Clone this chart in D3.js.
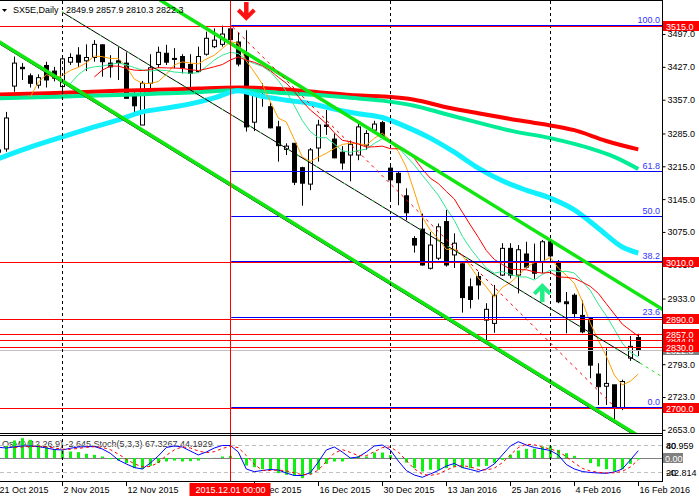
<!DOCTYPE html>
<html><head><meta charset="utf-8">
<script src="https://cdn.jsdelivr.net/npm/d3@7"></script>
<style>
html,body{margin:0;padding:0;background:#fff;overflow:hidden;}
svg text{font-family:"Liberation Sans",Arial,sans-serif;font-size:9px;}
</style></head><body>
<svg id="c" width="699" height="500"></svg>
<script>
// ---------------- DATA ----------------
const dates = ["2015-10-21","2015-10-22","2015-10-23","2015-10-26","2015-10-27","2015-10-28","2015-10-29","2015-10-30",
"2015-11-02","2015-11-03","2015-11-04","2015-11-05","2015-11-06","2015-11-09","2015-11-10","2015-11-11","2015-11-12","2015-11-13","2015-11-16","2015-11-17","2015-11-18","2015-11-19","2015-11-20","2015-11-23","2015-11-24","2015-11-25","2015-11-26","2015-11-27","2015-11-30",
"2015-12-01","2015-12-02","2015-12-03","2015-12-04","2015-12-07","2015-12-08","2015-12-09","2015-12-10","2015-12-11","2015-12-14","2015-12-15","2015-12-16","2015-12-17","2015-12-18","2015-12-21","2015-12-22","2015-12-23","2015-12-28","2015-12-29","2015-12-30",
"2016-01-04","2016-01-05","2016-01-06","2016-01-07","2016-01-08","2016-01-11","2016-01-12","2016-01-13","2016-01-14","2016-01-15","2016-01-18","2016-01-19","2016-01-20","2016-01-21","2016-01-22","2016-01-25","2016-01-26","2016-01-27","2016-01-28","2016-01-29",
"2016-02-01","2016-02-02","2016-02-03","2016-02-04","2016-02-05","2016-02-08","2016-02-09","2016-02-10","2016-02-11","2016-02-12","2016-02-15","2016-02-16"];

const open  = [3250,3252,3386,3426,3408,3388,3430,3418,3385,3437,3452,3440,3447,3474,3435,3440,3435,3367,3303,3392,3432,3456,3445,3449,3432,3417,3454,3470,3475,3508,3480,3456,3309,3363,3342,3299,3251,3264,3212,3177,3254,3303,3273,3245,3239,3239,3260,3292,3308,3211,3200,3152,3061,3081,2997.5,3019,3097,3026,3007,2958,2980,2887,2880,2983,3040,2983,3028,3011.5,3011.5,3054,3011.5,2926,2940,2897,2891,2772,2746,2749,2700,2806,2849.9];
const high  = [3262,3331,3449,3435,3413,3411,3438,3427,3449,3456,3469,3475,3484,3475,3452,3469,3458,3378,3397,3454,3470,3474,3467,3454,3454,3470,3502,3509,3515,3512,3500,3505,3374,3392,3352,3312,3264,3264,3214,3254,3314,3335,3285,3258,3270,3309,3292,3312,3312,3221,3203,3168,3066,3114,3075,3093,3122,3072,3010,2976,2990,2923,2962,3051,3051,3047,3054,3050,3058,3058,3015,2947,2944,2929,2893,2795,2827,2749,2760,2853,2857.9];
const low   = [3232,3246,3374,3399,3383,3381,3383,3396,3371,3431,3427,3418,3438,3406,3404,3399,3360,3324,3303,3380,3425,3431,3424,3413,3380,3415,3451,3467,3470,3478,3428,3289,3290,3342,3296,3225,3239,3175,3131,3164,3225,3282,3232,3208,3183,3228,3250,3288,3275,3139,3132,3100,3031,3003,2995,3015,3001,2998,2903,2912,2931,2841,2860,2981,2976,2944,2997,2975,2987,3011.5,2923,2859,2891,2859,2763,2706,2706,2674,2695,2800,2810.3];
const close = [3245,3318,3435,3423,3392,3404,3399,3403,3444,3447,3437,3447,3475,3438,3427,3436,3360,3344,3392,3425,3458,3437,3443,3425,3413,3449,3488,3484,3497,3485,3433,3299,3367,3367,3297,3259,3258,3181,3179,3250,3303,3300,3233,3222,3262,3299,3285,3305,3277,3186,3180,3116,3047,3004.5,3047,3086,3004.5,3051,2935,2931,2962,2910,2940,3040,2983,3037,3000,2987,3054,3024,2926,2922,2901,2862,2791,2745,2752,2699,2756,2831,2822.3];

// long moving averages: [bar index, price]
const maRed  = [[0,3368],[5,3370],[10,3373],[15,3376],[20,3378],[25,3381],[30,3383],[35,3380],[40,3373],[44,3367],[48,3364],[52,3357],[56,3341],[60,3328],[64,3316],[68,3305],[72,3292],[76,3269],[80,3251]];
const maTeal = [[0,3360],[5,3362],[10,3365],[15,3367],[20,3370],[25,3373],[30,3377],[35,3372],[40,3367],[44,3361],[48,3355],[52,3344],[56,3326],[60,3308],[64,3291],[69,3275],[74,3253],[77,3235],[80,3209]];
const maCyan = [[0,3231],[3,3250],[6,3267],[9,3283],[12,3299],[15,3314],[18,3331],[21,3339],[24,3348],[27,3361],[30,3376],[33,3364],[36,3356],[39,3349],[42,3337],[45,3327],[48,3319],[51,3299],[54,3275],[57,3245],[60,3211],[63,3184],[66,3164],[69,3147],[72,3122],[75,3083],[78,3043],[80,3030]];
const fastPeriods = [5,10,13];

// sub window
const osma = [21.4,22.6,32.6,36.9,33.8,24.5,20.2,16.4,14.0,12.1,10.9,7.8,5.9,2.8,-2.2,-4.7,-9.6,-18.9,-20.8,-14.6,-9.6,-6.5,-4.7,-6.5,-5.9,-4.7,-0.9,0.3,2.8,4.0,-1.6,-14.0,-17.1,-20.8,-22.0,-28.2,-31.3,-33.2,-37.5,-30.1,-22.0,-10.9,-6.5,-6.5,-1.6,4.0,2.8,10.2,10.2,5.3,-1.0,-8.4,-18.9,-25.1,-22.0,-22.0,-18.9,-17.1,-18.9,-18.9,-15.8,-14.6,-9.6,-3.4,5.9,14.0,17.1,17.1,21.4,22.6,15.2,9.0,4.0,-2.2,-9.6,-15.8,-20.8,-25.1,-20.8,-10.9,-2.645];
const stochMain = [74.9,73.3,75.6,77.8,77.8,76.7,73.3,70,68.9,72.7,75.6,76.2,76.7,71.1,61.6,46.7,37.8,30,26.7,40,55.6,74.4,77.8,75.6,66.7,57.8,64.4,73.3,78.9,78.9,64.4,26.7,20.7,23.3,25.6,24.4,17.8,12.2,12.2,18.4,42.2,68.9,75.6,64.4,51.1,53.3,64.4,77.8,80,68.9,44.4,23.3,13.3,8.2,15.6,23.3,33.3,38.9,30,25.6,21.1,26.7,37.8,57.8,77.8,87.3,80,74.4,71.1,67.8,57.8,36.7,26.7,21.1,18.9,17.8,17.1,20,26.7,46.7,67.3267];
const osmaMin = -42.814, osmaMax = 40.959;
const stochLevels = [80, 20];

// objects
const redLevels = [3515, 3010, 2890, 2844, 2857, 2830, 2700];
const fibHigh = 3515, fibLow = 2700, fibStartBar = 29;
const fibLevels = [100, 61.8, 50, 38.2, 23.6, 0];
const priceTicks = [3497,3427,3357,3285,3215,3145,3075,3005,2933,2793,2723,2653];
const separatorBars = [8, 29, 49, 69];
const vlineBar = 29;
const greenUpper = [[20.21,3569.6],[83.5,2905]];
const greenLower = [[-1,3492],[81,2630]];
const blackTrend = [[7.96,3544],[80.2,2795.6]];
const blackTrendExt = [[80.2,2795.6],[83,2766]];
const redDashed = [[29.3,3512],[77.3,2697.5]];
const arrowDown = [31, 3529];
const arrowUp = [68, 2962];
const timeLabelBars = [0, 8, 16, 32, 40, 48, 56, 64, 72, 80];

// ---------------- DRAW ----------------
const svg = d3.select("#c");
const RIGHT = 662, MTOP = 1, MBOT = 434, STOP = 436, SBOT = 481;
const X = d3.scaleLinear().domain([0, 80]).range([-1.7, 638.3]);
const Y = d3.scaleLinear().domain([2700, 3515]).range([407.8, 25.6]);
const YO = d3.scaleLinear().domain([osmaMin, osmaMax]).range([SBOT, STOP]);
const YS = d3.scaleLinear().domain([0, 100]).range([SBOT, STOP]);

const defs = svg.append("defs");
defs.append("clipPath").attr("id","cm").append("rect").attr("x",0).attr("y",MTOP).attr("width",RIGHT).attr("height",MBOT-MTOP);
defs.append("clipPath").attr("id","cs").append("rect").attr("x",0).attr("y",STOP).attr("width",RIGHT).attr("height",SBOT-STOP);

const gm = svg.append("g").attr("clip-path","url(#cm)");
const gs = svg.append("g").attr("clip-path","url(#cs)");

// period separators
separatorBars.forEach(b => {
  svg.append("line").attr("x1",Math.round(X(b))+0.5).attr("x2",Math.round(X(b))+0.5)
    .attr("y1",MTOP).attr("y2",SBOT).attr("stroke","#000").attr("stroke-dasharray","3,3");
});

// candles
const bars = d3.range(close.length);
const cg = gm.append("g");
bars.forEach(i => {
  const cx = Math.round(X(i)) + 0.5;
  cg.append("line").attr("x1",cx).attr("x2",cx).attr("y1",Y(high[i])).attr("y2",Y(low[i])).attr("stroke","#000");
  const top = Y(Math.max(open[i], close[i])), bot = Y(Math.min(open[i], close[i]));
  const up = close[i] >= open[i];
  cg.append("rect").attr("x",cx-2).attr("y",top).attr("width",4).attr("height",Math.max(bot-top,1))
    .attr("fill", up ? "#fff" : "#000").attr("stroke","#000").attr("stroke-width",1);
});

// long MAs
const lineIdx = d3.line().x(d => X(d[0])).y(d => Y(d[1])).curve(d3.curveMonotoneX);
gm.append("path").attr("d",lineIdx(maRed)).attr("fill","none").attr("stroke","#ff0000").attr("stroke-width",4);
gm.append("path").attr("d",lineIdx(maTeal)).attr("fill","none").attr("stroke","#00ec96").attr("stroke-width",4);
gm.append("path").attr("d",lineIdx(maCyan)).attr("fill","none").attr("stroke","#12f0ff").attr("stroke-width",5);

// fast MAs computed from closes
function sma(n){ return close.map((c,i) => i < n-1 ? null : d3.mean(close.slice(i-n+1, i+1))); }
const fastColors = ["#ffa000","#2ee88e","#ff0000"];
const lineV = d3.line().defined(d => d != null).x((d,i) => X(i)).y(d => Y(d));
fastPeriods.forEach((n,k) => {
  gm.append("path").attr("d", lineV(sma(n))).attr("fill","none").attr("stroke",fastColors[k]).attr("stroke-width",1);
});

// horizontal levels
redLevels.forEach(p => {
  gm.append("line").attr("x1",0).attr("x2",RIGHT).attr("y1",Math.round(Y(p))+0.5).attr("y2",Math.round(Y(p))+0.5).attr("stroke","#ff0000");
});
const fibG = gm.append("g");
fibLevels.forEach(l => {
  const p = fibLow + (fibHigh - fibLow) * l / 100;
  const yy = Math.round(Y(p)) - 0.5;
  fibG.append("line").attr("x1",X(fibStartBar)+1).attr("x2",RIGHT).attr("y1",yy).attr("y2",yy).attr("stroke","#0000ff");
});
gm.append("line").attr("x1",0).attr("x2",RIGHT).attr("y1",Math.round(Y(3515))+0.5).attr("y2",Math.round(Y(3515))+0.5).attr("stroke","#ff0000");
fibLevels.forEach(l => {
  const p = fibLow + (fibHigh - fibLow) * l / 100;
  gm.append("text").attr("x",660).attr("y",Y(p)-2.5).attr("text-anchor","end").attr("fill","#3333ff").text(l.toFixed(1));
});
// bid line
gm.append("line").attr("x1",0).attr("x2",RIGHT).attr("y1",Math.round(Y(close[80]))+0.5).attr("y2",Math.round(Y(close[80]))+0.5).attr("stroke","#c0c0c0");

// trend lines
const lineP = d3.line().x(d => X(d[0])).y(d => Y(d[1]));
gm.append("path").attr("d",lineP(greenLower.map(d=>[d[0],d[1]-4]))).attr("fill","none").attr("stroke","#000").attr("stroke-width",1);
gm.append("path").attr("d",lineP(greenUpper)).attr("fill","none").attr("stroke","#11e611").attr("stroke-width",3.5);
gm.append("path").attr("d",lineP(greenLower)).attr("fill","none").attr("stroke","#11e611").attr("stroke-width",3.5);
gm.append("path").attr("d",lineP(blackTrend)).attr("fill","none").attr("stroke","#000").attr("stroke-width",1);
gm.append("path").attr("d",lineP(blackTrend)).attr("fill","none").attr("stroke","#11e611").attr("stroke-width",1).attr("stroke-dasharray","2,9");
gm.append("path").attr("d",lineP(blackTrendExt)).attr("fill","none").attr("stroke","#11e611").attr("stroke-width",1).attr("stroke-dasharray","3,4");
gm.append("path").attr("d",lineP(redDashed)).attr("fill","none").attr("stroke","#ff0000").attr("stroke-width",1).attr("stroke-dasharray","3,4");

// arrows
function arrow(g, cx, tipY, dir, color){
  const s = dir; // 1 = down, -1 = up
  const tail = tipY - s*17;
  g.append("path").attr("d",`M${cx},${tail} L${cx},${tipY - s*2}`).attr("stroke",color).attr("stroke-width",4.5).attr("fill","none");
  g.append("path").attr("d",`M${cx-8},${tipY - s*9} L${cx},${tipY - s*1} L${cx+8},${tipY - s*9}`)
    .attr("stroke",color).attr("stroke-width",4).attr("fill","none").attr("stroke-linejoin","miter");
}
arrow(gm, X(arrowDown[0]), Y(arrowDown[1]), 1, "#ff1010");
arrow(gm, X(arrowUp[0]), Y(arrowUp[1]), -1, "#22ee88");

// red vertical line
svg.append("line").attr("x1",Math.round(X(vlineBar))+0.5).attr("x2",Math.round(X(vlineBar))+0.5).attr("y1",MTOP).attr("y2",SBOT).attr("stroke","#ff0000");

// header
svg.append("path").attr("d","M2,9 L7,9 L4.5,12 Z").attr("fill","#000");
svg.append("text").attr("x",13).attr("y",13).text("SX5E,Daily");
svg.append("text").attr("x",66).attr("y",13).text([open[80],high[80],low[80],close[80]].map(v=>v.toFixed(1)).join(" "));

// ---------- sub window ----------
gs.append("text").attr("x",2).attr("y",447).attr("fill","#333").text("OsMA(12,26,9) -2.645  Stoch(5,3,3) 67.3267 44.1929");
stochLevels.forEach(l => {
  gs.append("line").attr("x1",0).attr("x2",RIGHT).attr("y1",Math.round(YS(l))+0.5).attr("y2",Math.round(YS(l))+0.5)
    .attr("stroke","#c0c0c0").attr("stroke-dasharray","4,3");
});
gs.append("line").attr("x1",0).attr("x2",RIGHT).attr("y1",Math.round(YO(0))+0.5).attr("y2",Math.round(YO(0))+0.5).attr("stroke","#808080");
bars.forEach(i => {
  const y0 = YO(0), y1 = YO(osma[i]);
  gs.append("rect").attr("x",Math.round(X(i))-1).attr("width",3).attr("y",Math.min(y0,y1)).attr("height",Math.abs(y1-y0)).attr("fill","#11ee11");
});
const stochSig = stochMain.map((v,i) => i < 2 ? null : d3.mean(stochMain.slice(i-2,i+1)));
const lineS = d3.line().defined(d => d != null).x((d,i) => X(i)).y(d => YS(d));
gs.append("path").attr("d",lineS(stochMain)).attr("fill","none").attr("stroke","#0000ff").attr("stroke-width",1);
gs.append("path").attr("d",lineS(stochSig)).attr("fill","none").attr("stroke","#ff0000").attr("stroke-width",1).attr("stroke-dasharray","3,3");
svg.append("line").attr("x1",Math.round(X(vlineBar))+0.5).attr("x2",Math.round(X(vlineBar))+0.5).attr("y1",STOP).attr("y2",SBOT).attr("stroke","#ff0000");

// frames
svg.append("line").attr("x1",0).attr("x2",RIGHT).attr("y1",0.5).attr("y2",0.5).attr("stroke","#000");
svg.append("line").attr("x1",0).attr("x2",RIGHT).attr("y1",MBOT-0.5).attr("y2",MBOT-0.5).attr("stroke","#000");
svg.append("line").attr("x1",0).attr("x2",RIGHT).attr("y1",STOP-0.5).attr("y2",STOP-0.5).attr("stroke","#000");
svg.append("line").attr("x1",0).attr("x2",RIGHT).attr("y1",SBOT+0.5).attr("y2",SBOT+0.5).attr("stroke","#000");
svg.append("line").attr("x1",RIGHT+0.5).attr("x2",RIGHT+0.5).attr("y1",0).attr("y2",SBOT+1).attr("stroke","#000");

// price axis
const ax = svg.append("g").attr("transform",`translate(${RIGHT+0.5},0)`)
  .call(d3.axisRight(Y).tickValues(priceTicks).tickFormat(d3.format(".1f")).tickSize(3).tickPadding(2));
ax.select(".domain").remove();
ax.selectAll("text").attr("font-size",9).attr("fill","#000").style("font-family","Liberation Sans, Arial, sans-serif");

// price boxes
function pbox(p, color, txt){
  const yy = Math.round(Y(p));
  svg.append("rect").attr("x",RIGHT+1).attr("y",yy-5).attr("width",36).attr("height",10).attr("fill",color);
  svg.append("text").attr("x",RIGHT+4).attr("y",yy+3.5).attr("fill","#fff").text(txt);
}
pbox(close[80], "#808080", close[80].toFixed(1));
redLevels.forEach(p => pbox(p, "#ff0000", p.toFixed(1)));

// sub axis labels
const subLab = [[YS(80),"80"],[YS(80),"40.959"],[YS(20),"20"],[YS(20),"-42.814"]];
subLab.forEach(d => svg.append("text").attr("x",RIGHT+4).attr("y",d[0]+3.5).attr("fill","#000").text(d[1]));
svg.append("rect").attr("x",RIGHT+1).attr("y",Math.round(YO(0))-5).attr("width",20).attr("height",10).attr("fill","#808080");
svg.append("text").attr("x",RIGHT+3).attr("y",Math.round(YO(0))+3.5).attr("fill","#fff").text("0.00");

// time axis
const fmt = d3.timeFormat("%-d %b %Y"), parse = d3.timeParse("%Y-%m-%d");
timeLabelBars.forEach(i => {
  const xx = Math.round(X(i)) + 0.5;
  svg.append("line").attr("x1",xx).attr("x2",xx).attr("y1",SBOT+1).attr("y2",SBOT+5).attr("stroke","#000");
  svg.append("text").attr("x",xx+1).attr("y",493).attr("fill","#000").text(fmt(parse(dates[i])));
});
const vx = Math.round(X(vlineBar)) + 0.5;
svg.append("rect").attr("x",vx-41).attr("y",483).attr("width",81).attr("height",13).attr("fill","#ff0000");
svg.append("text").attr("x",vx).attr("y",493).attr("text-anchor","middle").attr("fill","#fff").text(d3.timeFormat("%Y.%m.%d %H:%M")(parse(dates[vlineBar])));
</script>
</body></html>
